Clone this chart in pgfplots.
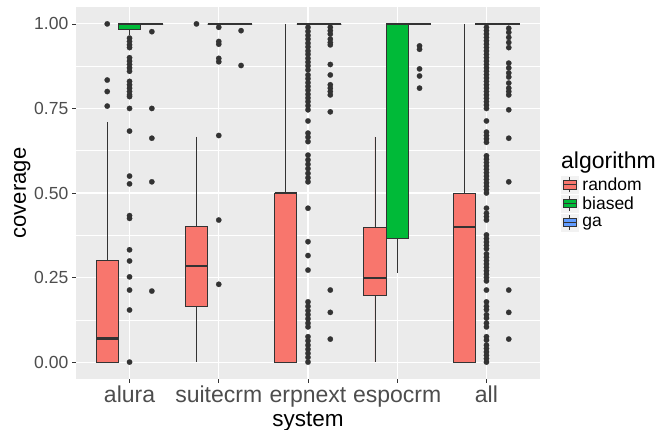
\documentclass[border=0pt]{standalone}
\usepackage{fontspec}
\setmainfont{Liberation Sans}
\usepackage{pgfplots}
\pgfplotsset{compat=1.18}
\usepgfplotslibrary{statistics}
\definecolor{panel}{HTML}{EBEBEB}
\definecolor{keybg}{HTML}{F2F2F2}
\definecolor{rnd}{HTML}{F8766D}
\definecolor{bia}{HTML}{00BA38}
\definecolor{gac}{HTML}{619CFF}
\definecolor{txt}{HTML}{4D4D4D}
\definecolor{dk}{HTML}{333333}
\pgfplotsset{
  boxplot/every median/.style={/tikz/line width=2.2pt},
  bp/.style={forget plot, mark=*, mark size=2.7pt,
    mark options={fill=dk, draw=dk, solid, line width=0.2pt},
    draw=dk, line width=0.75pt,
    boxplot/draw direction=y},
}
\newcommand{\keyimg}[1]{%
  \addlegendimage{legend image code/.code={
    \fill[keybg] (0pt,-8.5pt) rectangle (17pt,8.5pt);
    \draw[dk, line width=0.6pt] (8.5pt,-7.8pt) -- (8.5pt,7.8pt);
    \filldraw[fill=#1, draw=dk, line width=0.6pt] (1.7pt,-4.3pt) rectangle (15.3pt,4.3pt);
    \draw[dk, line width=1.2pt] (1.7pt,0pt) -- (15.3pt,0pt);
  }}}
\begin{document}
\begin{tikzpicture}
\path[use as bounding box] (0,0) rectangle (656pt,430pt);
\begin{axis}[
  at={(76pt,51pt)}, anchor=south west,
  scale only axis, width=464pt, height=372pt,
  xmin=0.4, xmax=5.6, ymin=-0.05, ymax=1.05,
  axis background/.style={fill=panel},
  axis line style={draw=none},
  xtick={1,2,3,4,5},
  xticklabels={alura,suitecrm,erpnext,espocrm,all},
  ytick={0,0.25,0.5,0.75,1},
  minor ytick={0.125,0.375,0.625,0.875},
  xmajorgrids, ymajorgrids, yminorgrids,
  major grid style={white, line width=1.1pt},
  minor grid style={white, line width=0.55pt},
  tick align=outside, tick pos=left, major tick length=4pt, minor tick length=0pt,
  tick style={dk, line width=0.6pt},
  /pgf/number format/assume math mode=true,
  yticklabel style={font=\fontsize{17.5}{18}\selectfont, text=txt, anchor=east, inner sep=0pt, xshift=-3.5pt,
    /pgf/number format/.cd, fixed, fixed zerofill, precision=2},
  xticklabel style={font=\fontsize{23}{24}\selectfont, text=txt, anchor=base, inner sep=0pt, yshift=-19.5pt},
  xlabel={system}, ylabel={coverage},
  xlabel style={font=\fontsize{22.5}{24}\selectfont, at={(axis description cs:0.5,-0.128)}, anchor=base},
  ylabel style={font=\fontsize{22}{24}\selectfont, at={(axis description cs:-0.1078,0.5)}, anchor=base},
  legend style={draw=none, fill=none, at={(1.0453,0.472)}, anchor=west,
    inner sep=0pt, outer sep=0pt, row sep=1.5pt, column sep=4pt,
    font=\fontsize{17.5}{18}\selectfont,
    nodes={inner sep=0pt, outer sep=0pt}},
  legend cell align=left,
]
% ---- alura ----
\addplot[bp, fill=rnd, boxplot prepared={draw position=0.75, lower whisker=0, lower quartile=0, median=0.07, upper quartile=0.30, upper whisker=0.71, box extend=0.25, whisker extend=0}]
  table[row sep=\\, y index=0] {1.0\\0.834\\0.80\\0.757\\};
\addplot[bp, fill=bia, boxplot prepared={draw position=1, lower whisker=0.967, lower quartile=0.984, median=1.0, upper quartile=1.0, upper whisker=1.0, box extend=0.25, whisker extend=0}]
  table[row sep=\\, y index=0] {0.958\\0.948\\0.938\\0.930\\0.90\\0.89\\0.88\\0.87\\0.86\\0.83\\0.82\\0.81\\0.80\\0.79\\0.785\\0.75\\0.683\\0.55\\0.527\\0.433\\0.425\\0.332\\0.299\\0.252\\0.213\\0.154\\0.0\\};
\addplot[bp, fill=gac, boxplot prepared={draw position=1.25, lower whisker=1.0, lower quartile=1.0, median=1.0, upper quartile=1.0, upper whisker=1.0, box extend=0.25, whisker extend=0}]
  table[row sep=\\, y index=0] {0.977\\0.75\\0.662\\0.533\\0.21\\};
% ---- suitecrm ----
\addplot[bp, fill=rnd, boxplot prepared={draw position=1.75, lower whisker=0, lower quartile=0.166, median=0.285, upper quartile=0.40, upper whisker=0.667, box extend=0.25, whisker extend=0}]
  table[row sep=\\, y index=0] {1.0\\};
\addplot[bp, fill=bia, boxplot prepared={draw position=2, lower whisker=1.0, lower quartile=1.0, median=1.0, upper quartile=1.0, upper whisker=1.0, box extend=0.25, whisker extend=0}]
  table[row sep=\\, y index=0] {0.99\\0.948\\0.94\\0.898\\0.888\\0.67\\0.42\\0.23\\};
\addplot[bp, fill=gac, boxplot prepared={draw position=2.25, lower whisker=1.0, lower quartile=1.0, median=1.0, upper quartile=1.0, upper whisker=1.0, box extend=0.25, whisker extend=0}]
  table[row sep=\\, y index=0] {0.98\\0.877\\};
% ---- erpnext ----
\addplot[bp, fill=rnd, boxplot prepared={draw position=2.75, lower whisker=0, lower quartile=0, median=0.5, upper quartile=0.5, upper whisker=1.0, box extend=0.25, whisker extend=0}]
  coordinates {};
\addplot[bp, fill=bia, boxplot prepared={draw position=3, lower whisker=1.0, lower quartile=1.0, median=1.0, upper quartile=1.0, upper whisker=1.0, box extend=0.25, whisker extend=0}]
  table[row sep=\\, y index=0] {0.99\\0.978\\0.966\\0.955\\0.943\\0.932\\0.92\\0.91\\0.898\\0.887\\0.876\\0.864\\0.849\\0.838\\0.826\\0.815\\0.804\\0.792\\0.781\\0.77\\0.758\\0.746\\0.713\\0.677\\0.665\\0.652\\0.612\\0.598\\0.585\\0.572\\0.558\\0.545\\0.533\\0.455\\0.356\\0.315\\0.272\\0.178\\0.165\\0.152\\0.14\\0.128\\0.115\\0.104\\0.075\\0.063\\0.05\\0.038\\0.026\\0.014\\0.0\\};
\addplot[bp, fill=gac, boxplot prepared={draw position=3.25, lower whisker=1.0, lower quartile=1.0, median=1.0, upper quartile=1.0, upper whisker=1.0, box extend=0.25, whisker extend=0}]
  table[row sep=\\, y index=0] {0.99\\0.98\\0.97\\0.955\\0.945\\0.938\\0.88\\0.849\\0.82\\0.81\\0.80\\0.79\\0.74\\0.213\\0.147\\0.068\\};
% ---- espocrm ----
\addplot[bp, fill=rnd, boxplot prepared={draw position=3.75, lower whisker=0, lower quartile=0.198, median=0.249, upper quartile=0.398, upper whisker=0.667, box extend=0.25, whisker extend=0}]
  coordinates {};
\addplot[bp, fill=bia, boxplot prepared={draw position=4, lower whisker=0.264, lower quartile=0.366, median=1.0, upper quartile=1.0, upper whisker=1.0, box extend=0.25, whisker extend=0}]
  coordinates {};
\addplot[bp, fill=gac, boxplot prepared={draw position=4.25, lower whisker=1.0, lower quartile=1.0, median=1.0, upper quartile=1.0, upper whisker=1.0, box extend=0.25, whisker extend=0}]
  table[row sep=\\, y index=0] {0.935\\0.925\\0.867\\0.846\\0.81\\};
% ---- all ----
\addplot[bp, fill=rnd, boxplot prepared={draw position=4.75, lower whisker=0, lower quartile=0, median=0.40, upper quartile=0.5, upper whisker=1.0, box extend=0.25, whisker extend=0}]
  coordinates {};
\addplot[bp, fill=bia, boxplot prepared={draw position=5, lower whisker=1.0, lower quartile=1.0, median=1.0, upper quartile=1.0, upper whisker=1.0, box extend=0.25, whisker extend=0}]
  table[row sep=\\, y index=0] {0.99\\0.98\\0.97\\0.96\\0.95\\0.94\\0.93\\0.92\\0.91\\0.90\\0.89\\0.88\\0.87\\0.86\\0.85\\0.84\\0.83\\0.82\\0.81\\0.80\\0.79\\0.78\\0.77\\0.76\\0.75\\0.713\\0.68\\0.67\\0.66\\0.65\\0.61\\0.60\\0.59\\0.58\\0.57\\0.56\\0.55\\0.54\\0.53\\0.52\\0.51\\0.50\\0.455\\0.44\\0.43\\0.42\\0.376\\0.365\\0.355\\0.345\\0.335\\0.32\\0.31\\0.30\\0.29\\0.28\\0.27\\0.26\\0.25\\0.24\\0.213\\0.178\\0.165\\0.155\\0.14\\0.13\\0.115\\0.104\\0.075\\0.065\\0.05\\0.04\\0.03\\0.02\\0.01\\0.0\\};
\addplot[bp, fill=gac, boxplot prepared={draw position=5.25, lower whisker=1.0, lower quartile=1.0, median=1.0, upper quartile=1.0, upper whisker=1.0, box extend=0.25, whisker extend=0}]
  table[row sep=\\, y index=0] {0.987\\0.975\\0.96\\0.945\\0.93\\0.884\\0.87\\0.855\\0.843\\0.825\\0.81\\0.80\\0.79\\0.746\\0.662\\0.533\\0.213\\0.147\\0.068\\};
% ---- legend ----
\keyimg{rnd}\addlegendentry{random}
\keyimg{bia}\addlegendentry{biased}
\keyimg{gac}\addlegendentry{ga}
\end{axis}
\node[anchor=base west, inner sep=0pt, font=\fontsize{23}{24}\selectfont] at (561pt,261.7pt) {algorithm};
\end{tikzpicture}
\end{document}
